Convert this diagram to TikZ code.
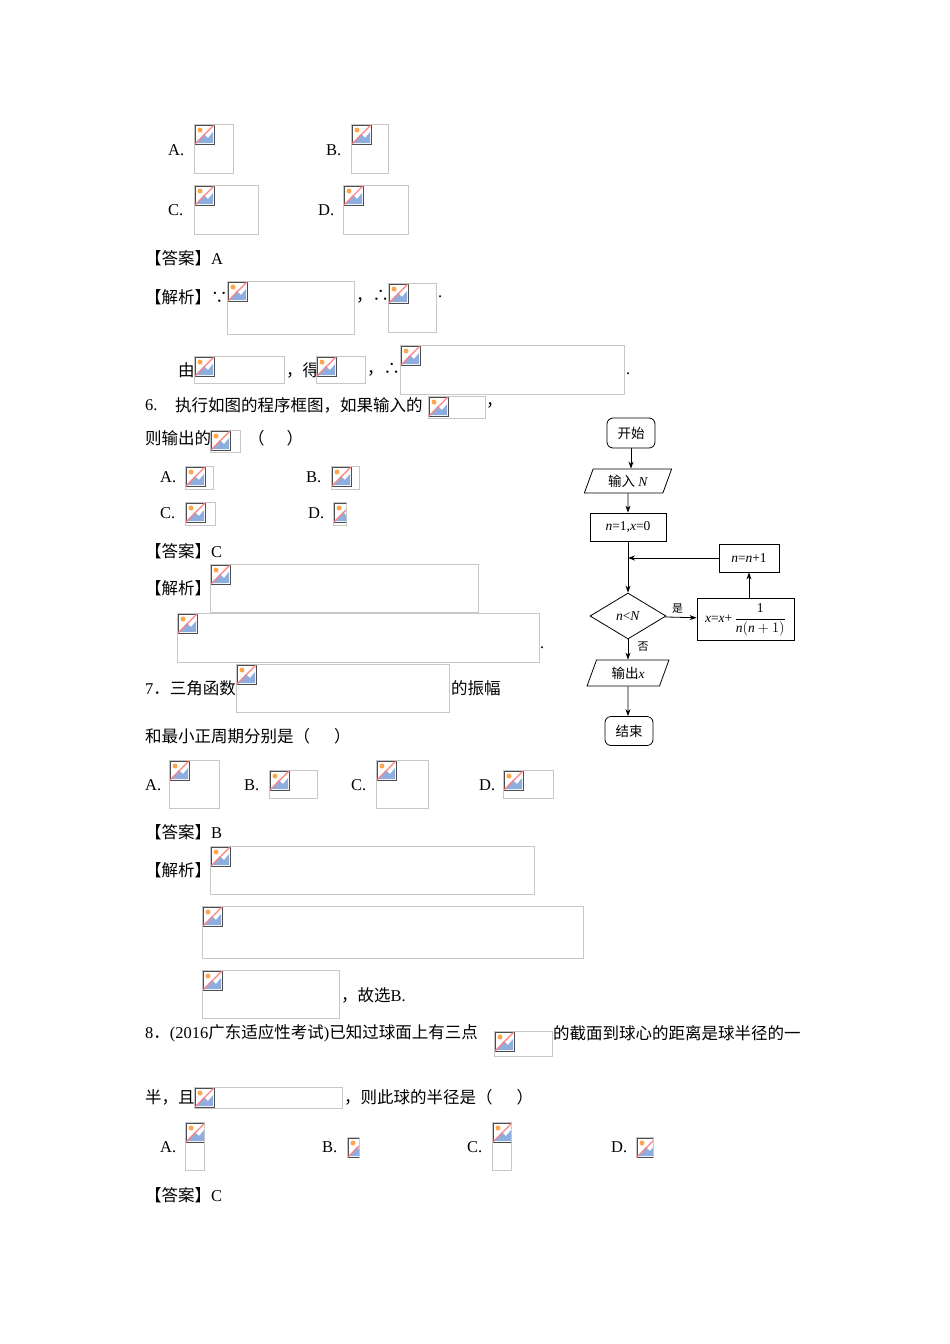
\documentclass[tikz,border=0pt]{standalone}
\usepackage{fontspec}
\setmainfont{Liberation Serif}
\newfontfamily\cjk{Noto Sans CJK SC}
\usetikzlibrary{shapes.geometric,arrows.meta}
\tikzset{
 txt/.style={anchor=west,inner sep=0pt,font=\fontsize{16.5}{16.5}\selectfont},
 phbox/.style={draw=black!22,line width=0.8pt},
 fc/.style={draw,line width=0.8pt,font=\fontsize{13.5}{14}\selectfont,inner sep=1pt},
 arr/.style={-{Stealth[length=7pt,width=5pt]},line width=0.8pt}
}
\newcommand\ph[4]{%
 \draw[phbox] (#1,#2) rectangle (#3,#4);
 \begin{scope}
  \clip (#1,#2) rectangle (#3,#4);
  \begin{scope}[shift={(#1+1,#2+1)}]
  \fill[white] (0,0) rectangle (19,19);
  \fill[cyan!50!blue!45] (1,18) -- (9,9) -- (13,13) -- (18,7) -- (18,18) -- cycle;
  \fill[orange!70] (5,5) circle (2.5);
  \draw[black!70,line width=0.7pt] (0,0) rectangle (19,19);
  \draw[red!50,line width=1.2pt] (0,19) -- (19,0);
  \end{scope}
 \end{scope}}
\newcommand\T[3]{\node[txt] at (#1,#2) {#3};}
\begin{document}
\begin{tikzpicture}[x=1pt,y=-1pt]
\useasboundingbox[fill=white] (0,0) rectangle (950,1344);
\T{168}{150}{A.} \ph{194}{124}{233}{173}
\T{326}{150}{B.} \ph{351}{124}{388}{173}
\T{168}{210}{C.} \ph{194}{185}{258}{234}
\T{318}{210}{D.} \ph{343}{185}{408}{234}
\T{145}{258}{\cjk【答案】\rmfamily A}
\T{145}{297}{\cjk【解析】∵} \ph{227}{281}{354}{334}
\T{356}{297}{\cjk，∴} \ph{388}{283}{436}{332} \T{438}{297}{.}
\T{178}{370}{\cjk 由} \ph{194}{356}{284}{383}
\T{286}{370}{\cjk，得} \ph{316}{356}{365}{383}
\T{367}{370}{\cjk，∴} \ph{400}{345}{624}{394} \T{626}{374}{.}
\T{145}{405}{6.} \T{175}{405}{\cjk 执行如图的程序框图，如果输入的} \ph{428}{396}{485}{418} \T{486}{405}{\cjk，}
\T{145}{438}{\cjk 则输出的} \ph{210}{430}{240}{452} \T{248}{438}{\cjk（\hspace{22pt}）}
\T{160}{477}{A.} \ph{185}{466}{213}{489}
\T{306}{477}{B.} \ph{331}{466}{359}{489}
\T{160}{513}{C.} \ph{185}{502}{215}{525}
\T{308}{513}{D.} \ph{333}{502}{346}{525}
\T{145}{551}{\cjk【答案】\rmfamily C}
\T{145}{588}{\cjk【解析】} \ph{210}{564}{478}{612}
\ph{177}{613}{539}{662} \T{540}{648}{.}
\T{145}{688}{7\cjk．三角函数} \ph{236}{664}{449}{712} \T{451}{688}{\cjk 的振幅}
\T{145}{736}{\cjk 和最小正周期分别是（\hspace{24pt}）}
\T{145}{785}{A.} \ph{169}{760}{219}{808}
\T{244}{785}{B.} \ph{269}{770}{317}{798}
\T{351}{785}{C.} \ph{376}{760}{428}{808}
\T{479}{785}{D.} \ph{503}{770}{553}{798}
\T{145}{832}{\cjk【答案】\rmfamily B}
\T{145}{870}{\cjk【解析】} \ph{210}{846}{534}{894}
\ph{202}{906}{583}{958}
\ph{202}{970}{339}{1018} \T{341}{995}{\cjk，故选\rmfamily B.}
\T{145}{1033}{8\cjk．\rmfamily(2016\cjk 广东适应性考试\rmfamily)\cjk 已知过球面上有三点} \ph{494}{1031}{552}{1056}
\T{553}{1033}{\cjk 的截面到球心的距离是球半径的一}
\T{145}{1097}{\cjk 半，且} \ph{194}{1087}{342}{1108} \T{344}{1097}{\cjk，则此球的半径是（\hspace{24pt}）}
\T{160}{1147}{A.} \ph{185}{1122}{204}{1170}
\T{322}{1147}{B.} \ph{347}{1137}{359}{1157}
\T{467}{1147}{C.} \ph{492}{1122}{511}{1170}
\T{611}{1147}{D.} \ph{636}{1137}{653}{1157}
\T{145}{1195}{\cjk【答案】\rmfamily C}
% flowchart
\node[fc,rounded corners=6pt,minimum width=48pt,minimum height=30pt] (s) at (631,433) {\cjk 开始};
\node[fc,trapezium,trapezium left angle=70,trapezium right angle=110,minimum width=62pt,minimum height=24pt] (in) at (628,481) {\cjk 输入\rmfamily\ \textit{N}};
\node[fc,minimum width=76pt,minimum height=28pt] (init) at (628,527) {\textit{n}=1,\textit{x}=0};
\node[fc,diamond,aspect=1.65,minimum width=76pt,minimum height=46pt,inner sep=0pt] (d) at (628,616) {\textit{n}<\textit{N}};
\node[fc,minimum width=97pt,minimum height=42pt] (upd) at (745.5,619) {\textit{x}=\textit{x}+\,$\displaystyle\frac{\mathrm{1}\vphantom{(}}{\textit{n}(\textit{n}+1)}$};
\node[fc,minimum width=60pt,minimum height=28pt] (inc) at (749,558) {\textit{n}=\textit{n}+1};
\node[fc,trapezium,trapezium left angle=70,trapezium right angle=110,minimum width=70pt,minimum height=26pt] (out) at (628,673) {\cjk 输出\rmfamily\textit{x}};
\node[fc,rounded corners=6pt,minimum width=48pt,minimum height=29pt] (e) at (629,731) {\cjk 结束};
\coordinate (j) at (628,558);
\draw[arr] (s.south) -- (s.south|-in.north);
\draw[arr] (in) -- (init);
\draw[arr] (init) -- (d);
\draw[arr] (d) -- node[above,font=\fontsize{11}{11}\selectfont,pos=0.4]{\cjk 是} (upd);
\draw[arr] (upd.north-|inc) -- (inc);
\draw[arr] (inc) -- (j);
\draw[arr] (d) -- node[right,font=\fontsize{11}{11}\selectfont,pos=0.35,xshift=6pt]{\cjk 否} (out);
\draw[arr] (out) -- (e.north-|out);
\end{tikzpicture}
\end{document}
